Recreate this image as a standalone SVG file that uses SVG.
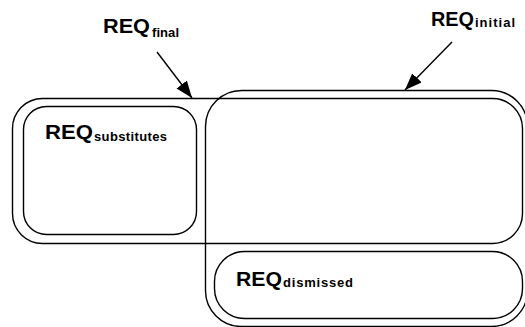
<svg xmlns="http://www.w3.org/2000/svg" width="525" height="327" viewBox="0 0 525 327">
  <style>
    .set { fill: none; stroke: #000; stroke-width: 1.4; }
    .main { font-family: "Liberation Sans", Arial, sans-serif; font-weight: bold; font-size: 21px; fill: #000; }
    .sub { font-family: "Liberation Sans", Arial, sans-serif; font-weight: bold; font-size: 13px; fill: #000; }
    .conn { stroke: #000; stroke-width: 1.4; fill: none; }
  </style>
  <defs>
    <marker id="head" markerUnits="userSpaceOnUse" markerWidth="18" markerHeight="14" refX="17" refY="6.5" orient="auto">
      <path d="M0,0 L17,6.5 L0,13 z" fill="#000"/>
    </marker>
  </defs>
  <rect width="525" height="327" fill="#fff"/>

  <!-- final requirement set -->
  <g id="req-final">
    <rect class="set" x="12.5" y="98.5" width="510" height="145" rx="30"/>
    <text class="main" x="103" y="33" textLength="47" lengthAdjust="spacingAndGlyphs">REQ</text>
    <text class="sub" x="152" y="37" textLength="27" lengthAdjust="spacing">final</text>
  </g>

  <!-- initial requirement set -->
  <g id="req-initial">
    <rect class="set" x="205.5" y="90.5" width="322" height="236" rx="36"/>
    <text class="main" x="431" y="26" textLength="43" lengthAdjust="spacingAndGlyphs">REQ</text>
    <text class="sub" x="475" y="27" textLength="40" lengthAdjust="spacing">initial</text>
  </g>

  <!-- substitutes -->
  <g id="req-substitutes">
    <rect class="set" x="23.5" y="106.5" width="173" height="128" rx="23"/>
    <text class="main" x="45" y="139" textLength="48" lengthAdjust="spacingAndGlyphs">REQ</text>
    <text class="sub" x="94" y="141" textLength="73" lengthAdjust="spacing">substitutes</text>
  </g>

  <!-- dismissed -->
  <g id="req-dismissed">
    <rect class="set" x="214.5" y="251.5" width="308" height="67" rx="30"/>
    <text class="main" x="236" y="286" textLength="46" lengthAdjust="spacingAndGlyphs">REQ</text>
    <text class="sub" x="283" y="287" textLength="70" lengthAdjust="spacing">dismissed</text>
  </g>

  <g id="connectors">
    <line class="conn" x1="157" y1="52" x2="192" y2="98" marker-end="url(#head)"/>
    <line class="conn" x1="452" y1="42" x2="405" y2="90" marker-end="url(#head)"/>
  </g>
</svg>
